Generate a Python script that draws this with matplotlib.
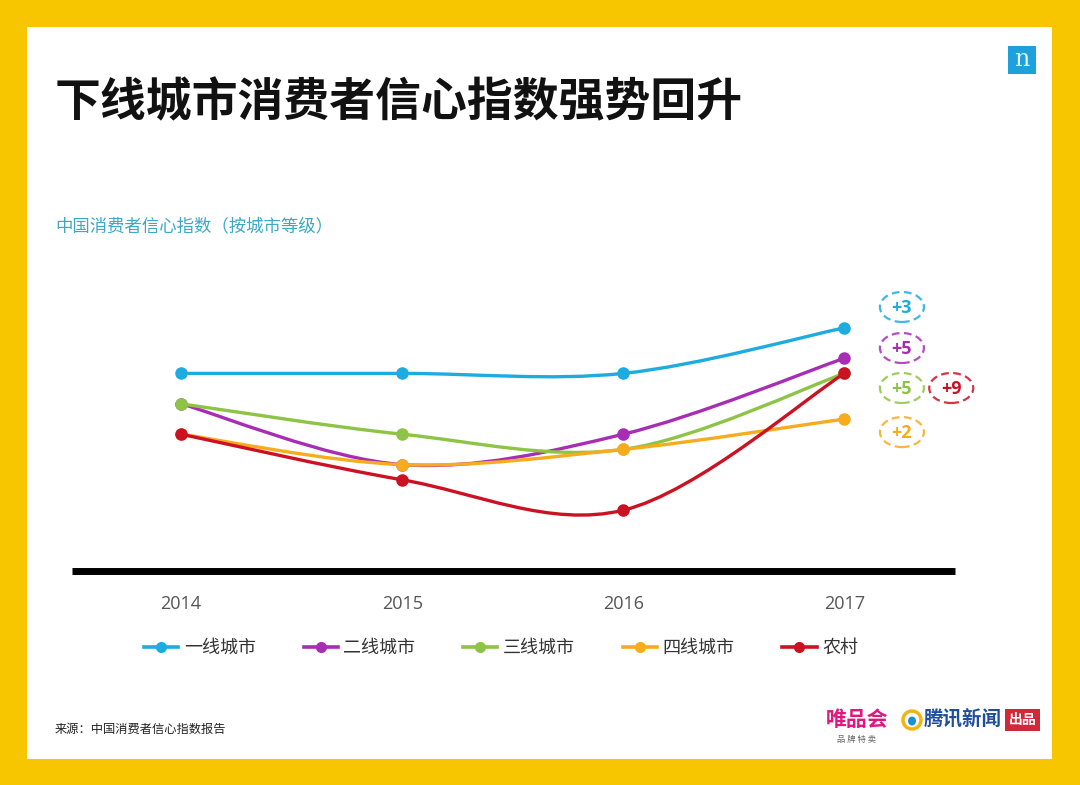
import matplotlib
matplotlib.use("Agg")
import matplotlib.pyplot as plt
from matplotlib.path import Path
from matplotlib.patches import PathPatch, Ellipse, Rectangle
from matplotlib.lines import Line2D
import numpy as np

plt.rcParams['font.family'] = ['Noto Sans CJK SC', 'DejaVu Sans']

# ---------------- data ----------------
years = ["2014", "2015", "2016", "2017"]
tier1 = [110, 110, 110, 113]
tier2 = [108, 104, 106, 111]
tier3 = [108, 106, 105, 110]
tier4 = [106, 104, 105, 107]
rural = [106, 103, 101, 110]
series_names = ["一线城市", "二线城市", "三线城市", "四线城市", "农村"]
series_values = [tier1, tier2, tier3, tier4, rural]
colors = ["#1EABE0", "#A82DB5", "#8DC445", "#F7AC1E", "#CC1122"]

title = "下线城市消费者信心指数强势回升"
subtitle = "中国消费者信心指数（按城市等级）"
source = "来源：中国消费者信心指数报告"

W, H = 1080, 785
fig = plt.figure(figsize=(W / 100, H / 100), dpi=100)
fig.patch.set_facecolor("#F7C600")

def fx(px):
    return px / W

def fy(py):
    return 1 - py / H

# white panel
fig.patches.append(Rectangle((fx(27), fy(759)), fx(1052) - fx(27), fy(27) - fy(759),
                             transform=fig.transFigure, facecolor="white", edgecolor="none", zorder=-5))

# axes: left 72, right 955, bottom 571, top 280
ax = fig.add_axes([fx(72), fy(571), fx(955) - fx(72), fy(280) - fy(571)])
ax.set_zorder(1)
ax.set_facecolor("none")
xs = np.arange(len(years))
ax.set_xlim(-0.493, 3.5)
ax.set_ylim(97, 97 + (571 - 280) / 15.2)

for s in ["top", "right", "left"]:
    ax.spines[s].set_visible(False)
ax.spines["bottom"].set_linewidth(5)
ax.spines["bottom"].set_color("black")
ax.spines["bottom"].set_capstyle("butt")
ax.set_yticks([])
ax.set_xticks(xs)
ax.set_xticklabels(years, fontsize=13, color="#555555", family=["Open Sans", "DejaVu Sans"])
ax.tick_params(axis="x", length=0, pad=17)


def smooth_path(x, y, t=1 / 6):
    pts = np.column_stack([x, y]).astype(float)
    n = len(pts)
    verts = [pts[0]]
    codes = [Path.MOVETO]
    for i in range(n - 1):
        p0 = pts[max(i - 1, 0)]
        p1 = pts[i]
        p2 = pts[i + 1]
        p3 = pts[min(i + 2, n - 1)]
        c1 = p1 + (p2 - p0) * t
        c2 = p2 - (p3 - p1) * t
        verts += [c1, c2, p2]
        codes += [Path.CURVE4] * 3
    return Path(verts, codes)


handles = []
for i, (name, vals, c) in enumerate(zip(series_names, series_values, colors)):
    ax.add_patch(PathPatch(smooth_path(xs, vals), facecolor="none", edgecolor=c,
                           lw=2.4, zorder=2 + i, capstyle="round"))
    ax.plot(xs, vals, "o", color=c, markersize=8, zorder=2 + i, clip_on=False)
    handles.append(Line2D([], [], color=c, lw=2.6, marker="o", markersize=7))

# change badges (layout positions, labels from data)
badge_pos = [(3.26, 114.37), (3.26, 111.67), (3.26, 109.04), (3.26, 106.14), (3.483, 109.04)]
for (bx, by), vals, c in zip(badge_pos, series_values, colors):
    d = vals[-1] - vals[-2]
    ax.add_patch(Ellipse((bx, by), width=44 / 221, height=30 / 15.2, facecolor="none",
                         edgecolor=c, lw=1.6, ls=(0, (3.5, 2)), clip_on=False, alpha=0.85))
    ax.text(bx, by - 0.05, f"+{d}", ha="center", va="center", fontsize=13, color=c,
            fontweight="bold", family=["Open Sans", "DejaVu Sans"], clip_on=False)

# legend
leg = fig.legend(handles, series_names, loc="center", bbox_to_anchor=(fx(501), fy(648)),
                 ncol=5, frameon=False, fontsize=13, handlelength=1.9, handletextpad=0.3,
                 columnspacing=2.65, labelcolor="#333333")

# texts
fig.text(fx(55), fy(103), title, fontsize=33, fontweight="black", color="#111111",
         va="center", ha="left")
fig.text(fx(55), fy(226), subtitle, fontsize=12.5, color="#3CA8C8", va="center", ha="left")
fig.text(fx(55), fy(729), source, fontsize=8.8, color="#222222", va="center", ha="left")

# top-right logo
fig.patches.append(Rectangle((fx(1008), fy(74)), fx(28), fy(46) - fy(74), transform=fig.transFigure,
                             facecolor="#1FA0DC", edgecolor="none"))
fig.text(fx(1022), fy(60), "n", fontsize=17, color="#E8F6FC", ha="center", va="center",
         family=["DejaVu Serif"])

# bottom-right logos
fig.text(fx(857), fy(719), "唯品会", fontsize=15, fontweight="bold", color="#E0187E",
         ha="center", va="center")
fig.text(fx(857), fy(739), "品 牌 特 卖", fontsize=6, color="#666666", ha="center", va="center")
fig.patches.append(Ellipse((fx(912), fy(720)), fx(18), fy(0) - fy(18), transform=fig.transFigure,
                           facecolor="white", edgecolor="#F2B515", lw=2.5))
fig.patches.append(Ellipse((fx(912), fy(721)), fx(8), fy(0) - fy(9), transform=fig.transFigure,
                           facecolor="#1A8FD6", edgecolor="none"))
fig.text(fx(963), fy(720), "腾讯新闻", fontsize=14, fontweight="bold", color="#1E4F9E",
         ha="center", va="center", style="italic")
fig.patches.append(Rectangle((fx(1005), fy(731)), fx(35), fy(709) - fy(731), transform=fig.transFigure,
                             facecolor="#D02A3A", edgecolor="none"))
fig.text(fx(1022.5), fy(720), "出品", fontsize=10, fontweight="bold", color="white",
         ha="center", va="center")

fig.savefig("out.png", dpi=100, facecolor=fig.get_facecolor())
